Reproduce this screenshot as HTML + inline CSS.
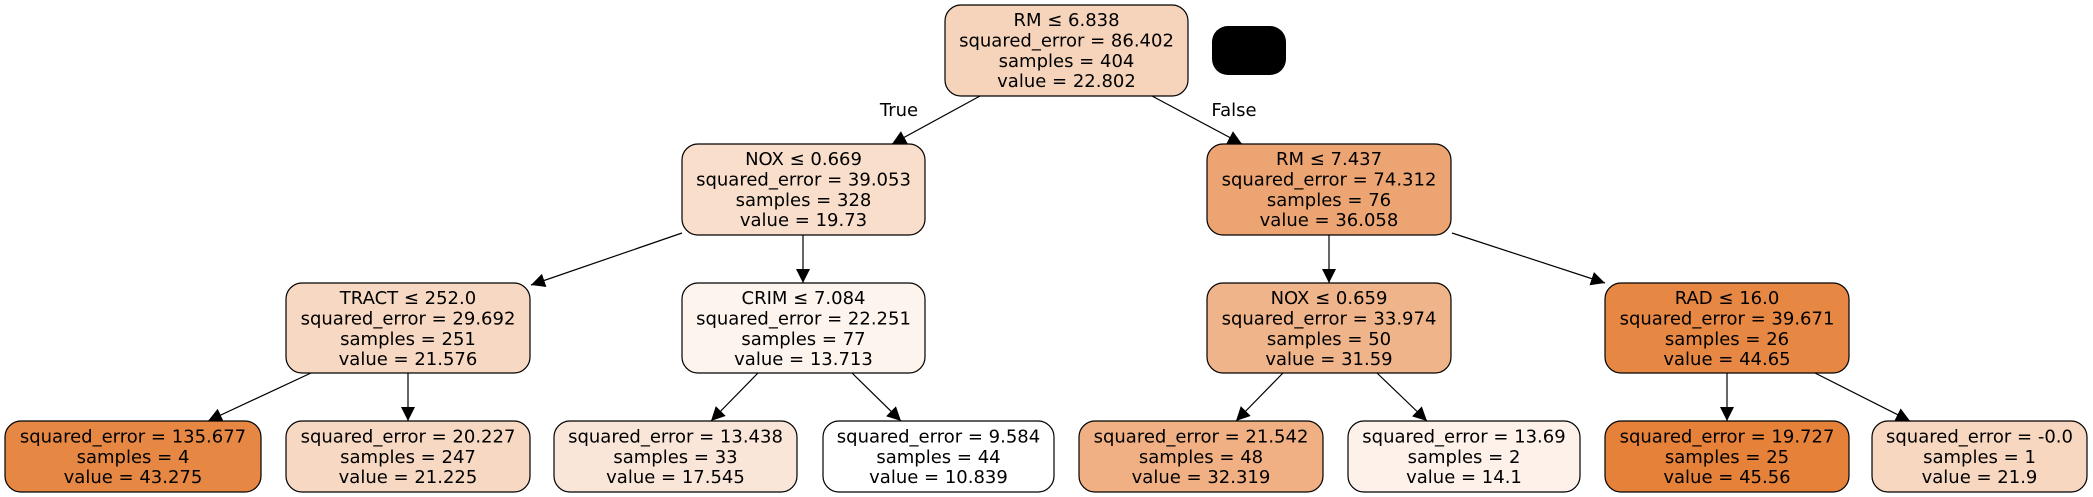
<!DOCTYPE html>
<html><head><meta charset="utf-8">
<style>
html,body{margin:0;padding:0;background:#fff;}
svg{display:block;}
text{font-family:"DejaVu Sans","Liberation Sans",sans-serif;font-size:18px;fill:#000;}
</style></head>
<body>
<svg id="tree" width="2093" height="497" viewBox="0 0 2093 497" xmlns="http://www.w3.org/2000/svg">
<defs>
<marker id="arr" viewBox="0 0 10 10" refX="10" refY="5" markerWidth="14" markerHeight="14" markerUnits="userSpaceOnUse" orient="auto">
<path d="M0,0 L10,5 L0,10 z" fill="#000"/>
</marker>
</defs>
<rect x="1212" y="26" width="74" height="49" rx="16" fill="#000"/>
<text x="899" y="116" text-anchor="middle">True</text>
<text x="1234" y="116" text-anchor="middle">False</text>
</svg>
<script>
const nodeIds = ['root','nox1','rm2','tract','crim','nox2','rad','l1','l2','l3','l4','l5','l6','l7','l8'];
const nodeLabels = [
 ['RM ≤ 6.838','squared_error = 86.402','samples = 404','value = 22.802'],
 ['NOX ≤ 0.669','squared_error = 39.053','samples = 328','value = 19.73'],
 ['RM ≤ 7.437','squared_error = 74.312','samples = 76','value = 36.058'],
 ['TRACT ≤ 252.0','squared_error = 29.692','samples = 251','value = 21.576'],
 ['CRIM ≤ 7.084','squared_error = 22.251','samples = 77','value = 13.713'],
 ['NOX ≤ 0.659','squared_error = 33.974','samples = 50','value = 31.59'],
 ['RAD ≤ 16.0','squared_error = 39.671','samples = 26','value = 44.65'],
 ['squared_error = 135.677','samples = 4','value = 43.275'],
 ['squared_error = 20.227','samples = 247','value = 21.225'],
 ['squared_error = 13.438','samples = 33','value = 17.545'],
 ['squared_error = 9.584','samples = 44','value = 10.839'],
 ['squared_error = 21.542','samples = 48','value = 32.319'],
 ['squared_error = 13.69','samples = 2','value = 14.1'],
 ['squared_error = 19.727','samples = 25','value = 45.56'],
 ['squared_error = -0.0','samples = 1','value = 21.9']
];
const nodeFills = ['#f6d4bb','#f8decb','#eca572','#f7d8c2','#fdf4ee','#f0b48a','#e68743','#e68844','#f7d9c3','#fae6d8','#ffffff','#f0b083','#fdf1ea','#e58139','#f7d7c0'];
const edgesFrom = [0,0,1,1,2,2,3,3,4,4,5,5,6,6];
const edgesTo   = [1,2,3,4,5,6,7,8,9,10,11,12,13,14];
const box = {
 root:[945,5,243,91], nox1:[682,144,243,91], rm2:[1207,144,244,91],
 tract:[286,283,244,90], crim:[682,283,243,90], nox2:[1207,283,244,90], rad:[1605,283,244,90],
 l1:[5,421,256,71], l2:[286,421,244,71], l3:[554,421,243,71], l4:[823,421,231,71],
 l5:[1079,421,244,71], l6:[1348,421,232,71], l7:[1605,421,244,71], l8:[1872,421,215,71]
};
const edgePts = [
 [980,96,892,144],[1152,96,1242,144],[682,233,531,285],[803,235,803,283],
 [1329,235,1329,283],[1452,233,1605,283],[311,373,208,421],[408,373,408,421],
 [758,373,711,421],[852,373,901,421],[1283,373,1236,421],[1377,373,1427,421],
 [1727,373,1727,421],[1815,373,1910,421]
];
const svg = document.getElementById('tree');
const NS = 'http://www.w3.org/2000/svg';
edgesFrom.forEach((f,i)=>{
  const p = edgePts[i];
  const l = document.createElementNS(NS,'line');
  l.setAttribute('x1',p[0]);l.setAttribute('y1',p[1]);l.setAttribute('x2',p[2]);l.setAttribute('y2',p[3]);
  l.setAttribute('stroke','#000');l.setAttribute('stroke-width','1.2');l.setAttribute('marker-end','url(#arr)');
  
  
  svg.appendChild(l);
});
nodeIds.forEach((id,i)=>{
  const b = box[id];
  const g = document.createElementNS(NS,'g');
  
  
  const r = document.createElementNS(NS,'rect');
  r.setAttribute('x',b[0]);r.setAttribute('y',b[1]);r.setAttribute('width',b[2]);r.setAttribute('height',b[3]);
  r.setAttribute('rx',16);r.setAttribute('fill',nodeFills[i]);r.setAttribute('stroke','#000');r.setAttribute('stroke-width','1.2');
  g.appendChild(r);
  const lines = nodeLabels[i];
  const offs = lines.length===4 ? [21,41.5,62,82] : [21.5,42,62];
  lines.forEach((t,k)=>{
    const tx = document.createElementNS(NS,'text');
    tx.setAttribute('x',b[0]+b[2]/2);tx.setAttribute('y',b[1]+offs[k]);tx.setAttribute('text-anchor','middle');
    tx.textContent = t;
    
    
    g.appendChild(tx);
  });
  svg.appendChild(g);
});
</script>
</body></html>
